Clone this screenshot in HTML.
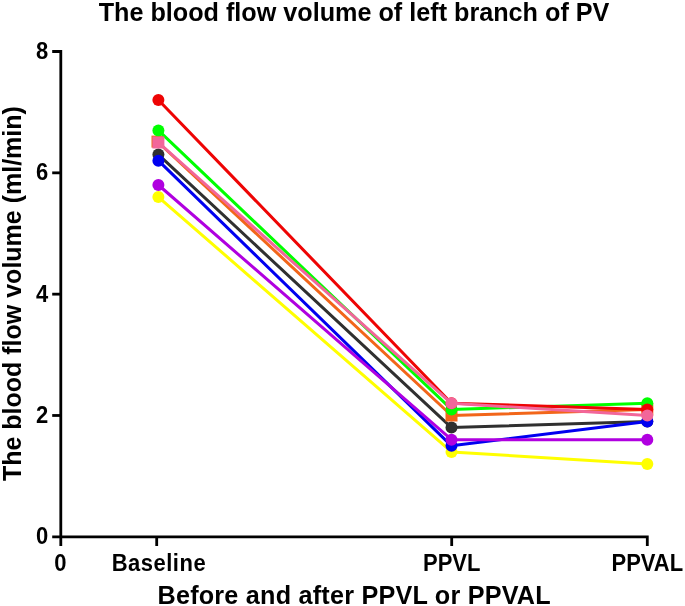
<!DOCTYPE html>
<html><head><meta charset="utf-8"><style>
html,body{margin:0;padding:0;background:#fff;}
svg{display:block;will-change:transform;}
.t{font-family:"Liberation Sans",sans-serif;font-weight:bold;font-size:22px;fill:#000;}
.h{font-family:"Liberation Sans",sans-serif;font-weight:bold;font-size:25.2px;fill:#000;}
</style></head><body>
<svg width="685" height="606" viewBox="0 0 685 606">
<rect width="685" height="606" fill="#fff"/>
<path d="M52.2,51.52 H60.8 V546" fill="none" stroke="#000" stroke-width="2.8" stroke-linejoin="miter"/>
<path d="M52.2,536.8 H647.3 V546" fill="none" stroke="#000" stroke-width="2.8" stroke-linejoin="miter"/>
<path d="M52.2,172.84 H60.8" stroke="#000" stroke-width="2.8"/>
<path d="M52.2,294.16 H60.8" stroke="#000" stroke-width="2.8"/>
<path d="M52.2,415.48 H60.8" stroke="#000" stroke-width="2.8"/>
<path d="M156.7,536.8 V546" stroke="#000" stroke-width="2.8"/>
<path d="M451.7,536.8 V546" stroke="#000" stroke-width="2.8"/>
<polyline points="158.4,154.6 451.5,427.6 647.3,421.5" fill="none" stroke="#303030" stroke-width="3" stroke-linejoin="round"/>
<circle cx="158.4" cy="154.6" r="6.0" fill="#303030"/>
<circle cx="451.5" cy="427.6" r="6.0" fill="#303030"/>
<circle cx="647.3" cy="421.5" r="6.0" fill="#303030"/>
<polyline points="158.4,197.1 451.5,451.9 647.3,464.0" fill="none" stroke="#ffff00" stroke-width="3" stroke-linejoin="round"/>
<circle cx="158.4" cy="197.1" r="6.0" fill="#ffff00"/>
<circle cx="451.5" cy="451.9" r="6.0" fill="#ffff00"/>
<circle cx="647.3" cy="464.0" r="6.0" fill="#ffff00"/>
<polyline points="158.4,160.7 451.5,445.8 647.3,421.5" fill="none" stroke="#0000f0" stroke-width="3" stroke-linejoin="round"/>
<circle cx="158.4" cy="160.7" r="6.0" fill="#0000f0"/>
<circle cx="451.5" cy="445.8" r="6.0" fill="#0000f0"/>
<circle cx="647.3" cy="421.5" r="6.0" fill="#0000f0"/>
<polyline points="158.4,185.0 451.5,439.7 647.3,439.7" fill="none" stroke="#b000e0" stroke-width="3" stroke-linejoin="round"/>
<circle cx="158.4" cy="185.0" r="6.0" fill="#b000e0"/>
<circle cx="451.5" cy="439.7" r="6.0" fill="#b000e0"/>
<circle cx="647.3" cy="439.7" r="6.0" fill="#b000e0"/>
<polyline points="158.4,142.5 451.5,415.5 647.3,409.4" fill="none" stroke="#f2661a" stroke-width="3" stroke-linejoin="round"/>
<rect x="151.5" y="135.6" width="12.0" height="12.0" fill="#f2661a"/>
<rect x="445.5" y="409.5" width="12.0" height="12.0" fill="#f2661a"/>
<rect x="641.3" y="403.4" width="12.0" height="12.0" fill="#f2661a"/>
<polyline points="158.4,130.4 451.5,409.4 647.3,403.3" fill="none" stroke="#00ff00" stroke-width="3" stroke-linejoin="round"/>
<circle cx="158.4" cy="130.4" r="6.0" fill="#00ff00"/>
<circle cx="451.5" cy="409.4" r="6.0" fill="#00ff00"/>
<circle cx="647.3" cy="403.3" r="6.0" fill="#00ff00"/>
<polyline points="158.4,100.0 451.5,403.3 647.3,409.4" fill="none" stroke="#ee0404" stroke-width="3" stroke-linejoin="round"/>
<circle cx="158.4" cy="100.0" r="6.0" fill="#ee0404"/>
<circle cx="451.5" cy="403.3" r="6.0" fill="#ee0404"/>
<circle cx="647.3" cy="409.4" r="6.0" fill="#ee0404"/>
<polyline points="158.4,142.5 451.5,403.3 647.3,415.5" fill="none" stroke="#f2669a" stroke-width="3" stroke-linejoin="round"/>
<rect x="152.4" y="136.5" width="12.0" height="12.0" fill="#f2669a"/>
<circle cx="451.5" cy="403.3" r="6.0" fill="#f2669a"/>
<circle cx="647.3" cy="415.5" r="6.0" fill="#f2669a"/>
<text transform="translate(48.3,58.9) scale(1,1.08)" text-anchor="end" class="t">8</text>
<text transform="translate(48.3,180.2) scale(1,1.08)" text-anchor="end" class="t">6</text>
<text transform="translate(48.3,301.6) scale(1,1.08)" text-anchor="end" class="t">4</text>
<text transform="translate(48.3,422.9) scale(1,1.08)" text-anchor="end" class="t">2</text>
<text transform="translate(48.3,544.2) scale(1,1.08)" text-anchor="end" class="t">0</text>
<text transform="translate(60.4,571.3) scale(1,1.08)" text-anchor="middle" class="t" letter-spacing="0">0</text>
<text transform="translate(158.9,571.3) scale(1,1.08)" text-anchor="middle" class="t" letter-spacing="0.5">Baseline</text>
<text transform="translate(451.7,571.3) scale(1,1.08)" text-anchor="middle" class="t" letter-spacing="0">PPVL</text>
<text transform="translate(647.3,571.3) scale(1,1.08)" text-anchor="middle" class="t" letter-spacing="0">PPVAL</text>
<text x="354" y="21" text-anchor="middle" class="h">The blood flow volume of left branch of PV</text>
<text x="354.2" y="603.5" text-anchor="middle" class="h" letter-spacing="0.22">Before and after PPVL or PPVAL</text>
<text transform="translate(20.6,293.6) rotate(-90)" x="0" y="0" text-anchor="middle" class="h" style="font-size:25px">The blood flow volume (ml/min)</text>
</svg>
</body></html>
